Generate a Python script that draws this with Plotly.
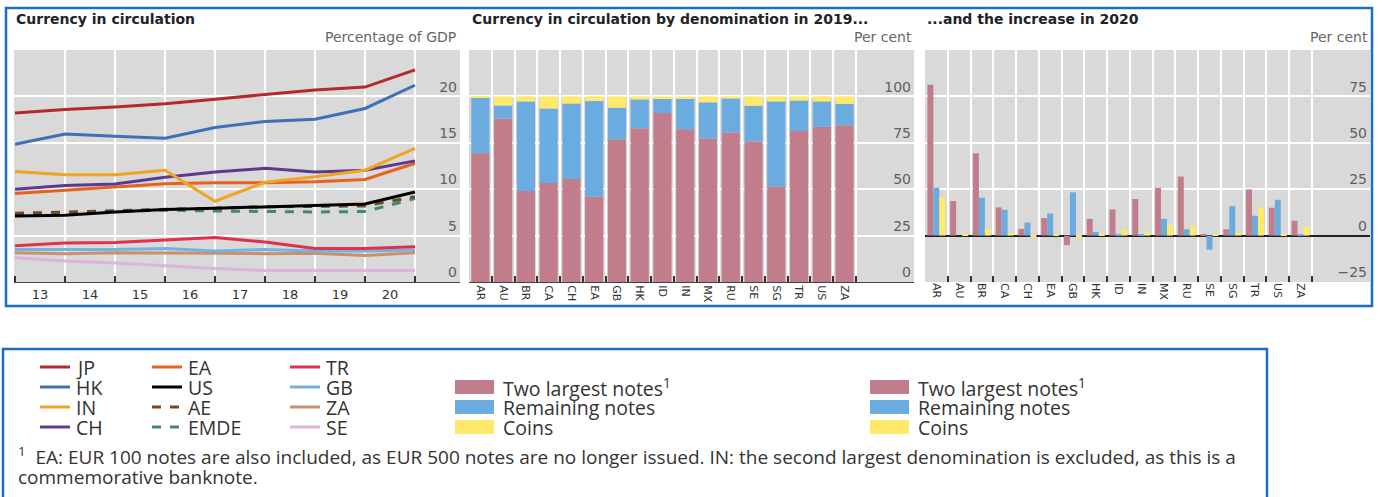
import plotly.graph_objects as go

W, H = 1383, 497

# ---------------- DATA ----------------
years = ["13", "14", "15", "16", "17", "18", "19", "20"]
JP = [18.2, 18.6, 18.85, 19.2, 19.7, 20.2, 20.7, 21.0, 22.85]
HK = [14.85, 15.95, 15.7, 15.5, 16.65, 17.3, 17.55, 18.7, 21.2]
IN = [11.9, 11.55, 11.55, 12.05, 8.7, 10.75, 11.35, 12.05, 14.4]
CH = [10.0, 10.4, 10.55, 11.3, 11.85, 12.25, 11.85, 12.05, 13.05]
EA = [9.55, 9.9, 10.25, 10.6, 10.7, 10.7, 10.8, 11.05, 12.8]
US = [7.1, 7.2, 7.55, 7.8, 7.95, 8.1, 8.25, 8.4, 9.7]
AE = [7.4, 7.55, 7.7, 7.85, 7.95, 8.1, 8.15, 8.2, 9.2]
EMDE = [7.3, 7.45, 7.6, 7.75, 7.65, 7.6, 7.55, 7.6, 9.0]
TR = [3.9, 4.2, 4.25, 4.5, 4.8, 4.3, 3.6, 3.6, 3.8]
GB = [3.5, 3.5, 3.5, 3.6, 3.35, 3.5, 3.35, 3.35, 3.45]
ZA = [3.15, 3.05, 3.15, 3.15, 3.1, 3.05, 3.1, 2.85, 3.15]
SE = [2.6, 2.25, 2.05, 1.75, 1.45, 1.25, 1.25, 1.25, 1.25]

countries = ["AR", "AU", "BR", "CA", "CH", "EA", "GB", "HK", "ID", "IN",
             "MX", "RU", "SE", "SG", "TR", "US", "ZA"]
# 2019 shares (per cent)
two_largest_2019 = [69.4, 88.1, 49.0, 53.3, 55.5, 45.9, 76.9, 82.9, 91.0, 82.3,
                    77.3, 80.5, 75.7, 51.4, 81.3, 83.6, 84.5]
remaining_2019 = [30.1, 7.0, 48.3, 40.2, 40.7, 51.6, 17.0, 15.5, 7.6, 16.4,
                  19.5, 18.4, 19.3, 45.9, 16.5, 13.7, 11.5]
coins_2019 = [0.5, 4.9, 2.7, 6.5, 3.8, 2.5, 6.1, 1.6, 1.4, 1.3,
              3.2, 1.1, 5.0, 2.7, 2.2, 2.7, 4.0]
# increase in 2020 (per cent)
two_largest_2020 = [81.3, 18.6, 44.3, 15.2, 3.6, 9.4, -5.1, 9.0, 14.1, 19.7,
                    25.7, 31.8, 0.4, 3.4, 24.9, 15.0, 8.0]
remaining_2020 = [25.8, 0.0, 20.4, 13.9, 7.0, 11.9, 23.3, 2.0, 0.9, 0.4,
                  9.0, 3.4, -7.6, 15.9, 10.7, 19.3, 0.5]
coins_2020 = [20.8, 0.9, 3.6, 1.4, -0.9, 0.9, -0.9, 0.5, 3.3, 1.8,
              6.0, 5.4, 0.5, 1.4, 15.2, 0.9, 5.1]

line_series = [
    ("SE", SE, "#dcb4dc", "solid"),
    ("ZA", ZA, "#c8906e", "solid"),
    ("GB", GB, "#74b2e2", "solid"),
    ("TR", TR, "#e0304c", "solid"),
    ("EMDE", EMDE, "#3c8a70", "dash"),
    ("AE", AE, "#6e4a2a", "dash"),
    ("US", US, "#000000", "solid"),
    ("EA", EA, "#e6621e", "solid"),
    ("CH", CH, "#5e3a8e", "solid"),
    ("IN", IN, "#f0a424", "solid"),
    ("HK", HK, "#3c70b8", "solid"),
    ("JP", JP, "#b5282e", "solid"),
]
legend_cols = [["JP", "HK", "IN", "CH"], ["EA", "US", "AE", "EMDE"], ["TR", "GB", "ZA", "SE"]]

C_RED, C_BLUE, C_YEL = "#c17d8c", "#6aabe0", "#ffe96a"
GRAY_BG = "#d9d9d9"


def px(x):
    return x / W


def py(y):
    return 1 - y / H


fig = go.Figure()

# ---------- panel 1: lines ----------
xpos = list(range(len(JP)))
for name, vals, col, dash in line_series:
    fig.add_trace(go.Scatter(x=xpos, y=vals, mode="lines", name=name,
                             line=dict(color=col, width=3, dash=dash),
                             xaxis="x", yaxis="y", showlegend=False))

# ---------- panel 2: stacked bars ----------
cx = list(range(len(countries)))
base_blue = [a for a in two_largest_2019]
base_yel = [a + b for a, b in zip(two_largest_2019, remaining_2019)]
fig.add_trace(go.Bar(x=cx, y=two_largest_2019, marker_color=C_RED, width=0.8,
                     xaxis="x2", yaxis="y2", showlegend=False, marker_line_width=0))
fig.add_trace(go.Bar(x=cx, y=remaining_2019, base=base_blue, marker_color=C_BLUE, width=0.8,
                     xaxis="x2", yaxis="y2", showlegend=False, marker_line_width=0))
fig.add_trace(go.Bar(x=cx, y=coins_2019, base=base_yel, marker_color=C_YEL, width=0.8,
                     xaxis="x2", yaxis="y2", showlegend=False, marker_line_width=0))

# ---------- panel 3: grouped bars ----------
bw = 0.263
for vals, col, off in [(two_largest_2020, C_RED, -0.395), (remaining_2020, C_BLUE, -0.132),
                       (coins_2020, C_YEL, 0.131)]:
    fig.add_trace(go.Bar(x=cx, y=vals, marker_color=col, width=bw, offset=off,
                         xaxis="x3", yaxis="y3", showlegend=False, marker_line_width=0))

tickfont_y = dict(family="DejaVu Sans", size=14, color="#606060")
common_y = dict(showgrid=True, gridcolor="white", gridwidth=1.5,
                side="right", ticklabelposition="inside top", ticks="",
                tickfont=tickfont_y, fixedrange=True)

top_dom = [py(282), py(50)]
fig.update_layout(
    width=W, height=H, margin=dict(l=0, r=0, t=0, b=0),
    paper_bgcolor="white", plot_bgcolor=GRAY_BG, barmode="overlay",
    showlegend=False,
    xaxis=dict(domain=[px(14), px(460)], range=[-0.02, 8.9],
               tickvals=[i + 0.5 for i in range(8)], ticktext=years, ticks="",
               showgrid=False, zeroline=False,
               tickfont=dict(family="DejaVu Sans", size=13, color="#333333"),
               showline=True, linecolor="#444444", linewidth=1,
               minor=dict(tickvals=list(range(9)), ticks="inside", ticklen=6,
                          tickcolor="#333333", tickwidth=2, showgrid=True,
                          gridcolor="white", gridwidth=1.5)),
    yaxis=dict(domain=top_dom, range=[0, 25], tickvals=[0, 5, 10, 15, 20],
               zeroline=False, **common_y),
    xaxis2=dict(domain=[px(469), px(914)], range=[-0.5, 19.05],
                tickvals=cx, ticktext=countries, tickangle=90, ticks="",
                showgrid=False, zeroline=False,
                tickfont=dict(family="DejaVu Sans", size=11, color="#333333"),
                showline=True, linecolor="#444444", linewidth=1,
                minor=dict(tickvals=[i + 0.5 for i in range(17)], ticks="inside", ticklen=6,
                           tickcolor="#333333", tickwidth=2, showgrid=True,
                           gridcolor="white", gridwidth=1.5)),
    yaxis2=dict(domain=top_dom, range=[0, 125], tickvals=[0, 25, 50, 75, 100],
                anchor="x2", zeroline=False, **common_y),
    xaxis3=dict(domain=[px(925), px(1370)], range=[-0.5, 19.05],
                tickvals=cx, ticktext=countries, tickangle=90, ticks="",
                showgrid=False, zeroline=False,
                tickfont=dict(family="DejaVu Sans", size=11, color="#333333"),
                minor=dict(tickvals=[i + 0.5 for i in range(17)], ticks="inside", ticklen=6,
                           tickcolor="#333333", tickwidth=2, showgrid=True,
                           gridcolor="white", gridwidth=1.5)),
    yaxis3=dict(domain=top_dom, range=[-25, 100], tickvals=[-25, 0, 25, 50, 75],
                ticktext=["\u221225", "0", "25", "50", "75"],
                anchor="x3", zeroline=True, zerolinecolor="#222222", zerolinewidth=1.5,
                **common_y),
)
fig.update_layout(xaxis2=dict(anchor="y2"), xaxis3=dict(anchor="y3"))

shapes = []
annotations = []
BLUE_BORDER = "#1b6ec2"
# boxes
shapes.append(dict(type="rect", xref="paper", yref="paper", x0=px(6), x1=px(1372),
                   y0=py(306), y1=py(8), line=dict(color=BLUE_BORDER, width=2.5)))
shapes.append(dict(type="rect", xref="paper", yref="paper", x0=px(3), x1=px(1267),
                   y0=py(520), y1=py(349), line=dict(color=BLUE_BORDER, width=2.5)))

# titles
title_font = dict(family="DejaVu Sans", size=14, color="#222222")
for x, t in [(14, "Currency in circulation"), (470, "Currency in circulation by denomination in 2019..."),
             (925, "...and the increase in 2020")]:
    annotations.append(dict(xref="paper", yref="paper", x=px(x), y=py(19), text="<b>" + t + "</b>",
                            showarrow=False, xanchor="left", yanchor="middle", font=title_font))
unit_font = dict(family="DejaVu Sans", size=14, color="#666666")
for x, t in [(458, "Percentage of GDP"), (914, "Per cent"), (1370, "Per cent")]:
    annotations.append(dict(xref="paper", yref="paper", x=px(x), y=py(37), text=t,
                            showarrow=False, xanchor="right", yanchor="middle", font=unit_font))

# line legend
leg_font = dict(family="Open Sans", size=19.5, color="#333333")
styles = {n: (c, d) for n, _, c, d in line_series}
col_x = [40, 152, 290]
row_y = [367, 387, 407, 427]
for ci, names in enumerate(legend_cols):
    for ri, n in enumerate(names):
        c, d = styles[n]
        shapes.append(dict(type="line", xref="paper", yref="paper", x0=px(col_x[ci]),
                           x1=px(col_x[ci] + 30), y0=py(row_y[ri]), y1=py(row_y[ri]),
                           line=dict(color=c, width=3, dash="dash" if d == "dash" else "solid")))
        annotations.append(dict(xref="paper", yref="paper", x=px(col_x[ci] + 34), y=py(row_y[ri]),
                                text=n, showarrow=False, xanchor="left", yanchor="middle",
                                font=leg_font))
# bar legends
bar_items = [("Two largest notes<sup>1</sup>", C_RED), ("Remaining notes", C_BLUE), ("Coins", C_YEL)]
for bx in [455, 870]:
    for i, (t, c) in enumerate(bar_items):
        yc = 387 + 20 * i
        shapes.append(dict(type="rect", xref="paper", yref="paper", x0=px(bx), x1=px(bx + 39),
                           y0=py(yc + 7), y1=py(yc - 7), fillcolor=c, line=dict(width=0)))
        annotations.append(dict(xref="paper", yref="paper", x=px(bx + 46), y=py(yc), text=t,
                                showarrow=False, xanchor="left", yanchor="middle", font=leg_font))
# footnote
foot_font = dict(family="Open Sans", size=19, color="#333333")
annotations.append(dict(xref="paper", yref="paper", x=px(16), y=py(456),
                        text="<sup>1</sup>  EA: EUR 100 notes are also included, as EUR 500 notes are no longer issued. "
                             "IN: the second largest denomination is excluded, as this is a",
                        showarrow=False, xanchor="left", yanchor="middle", font=foot_font))
annotations.append(dict(xref="paper", yref="paper", x=px(16), y=py(477), text="commemorative banknote.",
                        showarrow=False, xanchor="left", yanchor="middle", font=foot_font))

fig.update_layout(shapes=shapes, annotations=annotations)
fig.write_html("out.html", config={"displayModeBar": False},
               post_script="document.body.style.margin='0px';")
